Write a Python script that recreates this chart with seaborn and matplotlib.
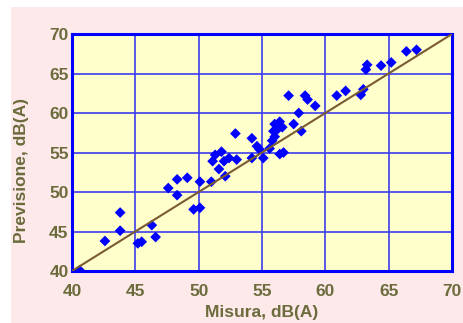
import matplotlib
matplotlib.use("Agg")
import matplotlib.pyplot as plt
from matplotlib.patches import Rectangle
import seaborn as sns
import pandas as pd

# measured vs predicted levels, dB(A)
misura = [40.6, 42.6, 43.8, 43.8, 45.2, 45.5, 46.3, 46.6, 47.6, 48.3,
          48.3, 49.1, 49.6, 50.1, 50.1, 51.0, 51.1, 51.3, 51.6, 51.8,
          52.0, 52.1, 52.4, 53.0, 52.9, 54.2, 54.2, 54.6, 54.8, 55.1,
          55.6, 55.8, 56.0, 55.9, 56.2, 56.0, 56.4, 56.6, 56.4, 56.7,
          57.1, 57.5, 57.9, 58.1, 58.4, 58.6, 59.2, 60.9, 61.6, 62.8,
          63.0, 63.2, 63.3, 64.4, 65.2, 66.4, 67.2]
previsione = [40.1, 43.8, 47.4, 45.1, 43.5, 43.7, 45.8, 44.3, 50.5, 51.6,
              49.6, 51.8, 47.8, 48.0, 51.3, 51.3, 53.9, 54.7, 52.9, 55.1,
              53.9, 52.0, 54.3, 54.1, 57.4, 56.8, 54.3, 55.8, 55.4, 54.3,
              55.5, 56.5, 57.0, 57.7, 57.9, 58.6, 58.9, 58.2, 54.8, 55.0,
              62.2, 58.6, 60.0, 57.7, 62.2, 61.7, 60.9, 62.2, 62.8, 62.3,
              63.0, 65.5, 66.1, 66.0, 66.4, 67.8, 68.0]
ideal = [40, 70]
ticks = [40, 45, 50, 55, 60, 65, 70]

df = pd.DataFrame({"misura": misura, "previsione": previsione})

sns.set_theme(style="white")
plt.rcParams["font.family"] = ["Liberation Sans", "DejaVu Sans"]

text_col = "#6b6b3c"
blue = "#0000ff"

fig = plt.figure(figsize=(4.64, 3.23), dpi=100, facecolor="white")
fig.patches.append(Rectangle((11 / 464, 0), 1, 1 - 7 / 323, transform=fig.transFigure,
                             facecolor="#fde9e9", edgecolor="none", zorder=-10))
ax = fig.add_axes([72 / 464, 1 - 271 / 323, 380 / 464, 237 / 323])
ax.set_facecolor("#ffffcc")

sns.scatterplot(data=df, x="misura", y="previsione", marker="D", s=30,
                color=blue, edgecolor="none", ax=ax, zorder=3)
sns.lineplot(x=ideal, y=ideal, color="#7a5a32", linewidth=1.5, ax=ax, zorder=4)

ax.set_xlim(40, 70)
ax.set_ylim(40, 70)
ax.set_xticks(ticks)
ax.set_yticks(ticks)
ax.grid(True, color="#3c3cf0", linewidth=1.2)
ax.set_axisbelow(True)
for sp in ax.spines.values():
    sp.set_color(blue)
    sp.set_linewidth(2.2)
ax.tick_params(axis="x", colors=blue, length=2.5, width=1.2, direction="out",
               labelcolor=text_col, labelsize=12.5, pad=7)
ax.tick_params(axis="y", length=0, labelcolor=text_col, labelsize=12.5, pad=2.5)
for lab in ax.get_xticklabels() + ax.get_yticklabels():
    lab.set_fontweight("bold")
ax.set_xlabel("Misura, dB(A)", color=text_col, fontsize=12.5, fontweight="bold")
ax.set_ylabel("Previsione, dB(A)", color=text_col, fontsize=12.5, fontweight="bold")
ax.xaxis.set_label_coords(0.5, -0.145)
ax.yaxis.set_label_coords(-0.112, 0.425)

fig.savefig("out.png", dpi=100, facecolor=fig.get_facecolor())
